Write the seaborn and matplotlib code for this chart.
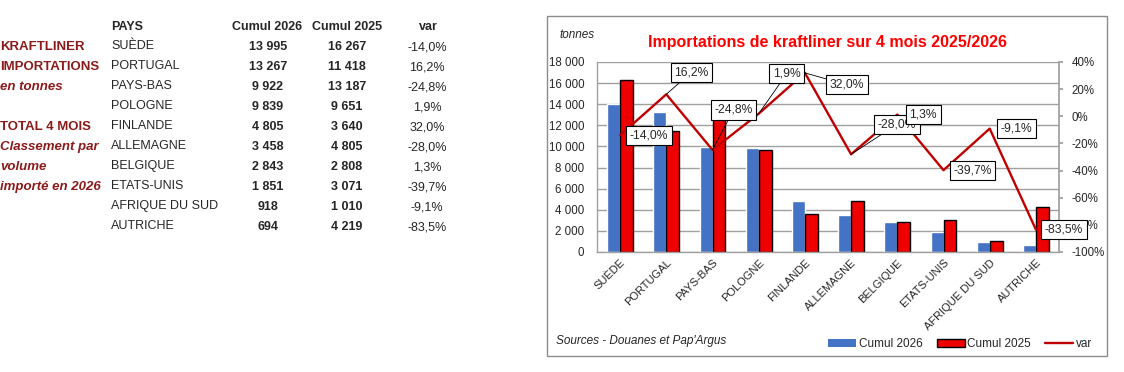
import numpy as np
import pandas as pd
import matplotlib
matplotlib.use("Agg")
import matplotlib.pyplot as plt
import seaborn as sns
from matplotlib.patches import Patch, Rectangle
from matplotlib.lines import Line2D
from matplotlib.ticker import FuncFormatter, MultipleLocator

# ---- data ----
pays = ["SUÈDE", "PORTUGAL", "PAYS-BAS", "POLOGNE", "FINLANDE", "ALLEMAGNE",
        "BELGIQUE", "ETATS-UNIS", "AFRIQUE DU SUD", "AUTRICHE"]
cumul_2026 = [13995, 13267, 9922, 9839, 4805, 3458, 2843, 1851, 918, 694]
cumul_2025 = [16267, 11418, 13187, 9651, 3640, 4805, 2808, 3071, 1010, 4219]
var_pct = [-14.0, 16.2, -24.8, 1.9, 32.0, -28.0, 1.3, -39.7, -9.1, -83.5]
series = ["Cumul 2026", "Cumul 2025"]

# label box offsets (pixels, x right / y down) relative to each line point
label_offsets = [(29, 0), (25, -22), (21, -40), (28, -40), (42, 12),
                 (46, -30), (26, 0), (29, 0), (27, 0), (28, 0)]

BLUE = "#4472C4"
RED = "#EE0000"
DARKRED = "#C00000"
MAROON = "#8B1A1A"
GRID = "#A0A0A0"

sns.set_theme(style="white")
plt.rcParams["font.family"] = ["Liberation Sans", "DejaVu Sans"]

W, H = 1124, 372
fig = plt.figure(figsize=(W / 100, H / 100), dpi=100)


def fx(px):
    return px / W


def fy(py):
    return 1 - py / H


def fmt_int(v):
    return f"{v:,}".replace(",", " ")


def fmt_pct(v):
    return f"{v:.1f}%".replace(".", ",")


# ---- left table ----
fs = 9
fig.text(fx(111), fy(27), "PAYS", fontsize=fs, fontweight="bold", va="center")
fig.text(fx(267), fy(27), "Cumul 2026", fontsize=fs, fontweight="bold", va="center", ha="center")
fig.text(fx(347), fy(27), "Cumul 2025", fontsize=fs, fontweight="bold", va="center", ha="center")
fig.text(fx(428), fy(27), "var", fontsize=fs, fontweight="bold", va="center", ha="center")
for i, p in enumerate(pays):
    y = 46 + 20 * i
    fig.text(fx(111), fy(y), p, fontsize=fs, va="center")
    fig.text(fx(268), fy(y + 1.5), fmt_int(cumul_2026[i]), fontsize=fs, fontweight="bold",
             va="center", ha="center")
    fig.text(fx(347), fy(y + 1.5), fmt_int(cumul_2025[i]), fontsize=fs, fontweight="bold",
             va="center", ha="center")
    fig.text(fx(427), fy(y + 1.5), fmt_pct(var_pct[i]), fontsize=fs, va="center", ha="center")

side = [("KRAFTLINER", 47, "normal"), ("IMPORTATIONS", 67, "normal"), ("en tonnes", 87, "italic"),
        ("TOTAL 4 MOIS", 127, "normal"), ("Classement par", 147, "italic"),
        ("volume", 167, "italic"), ("importé en 2026", 187, "italic")]
for txt, y, st in side:
    fig.text(fx(0), fy(y), txt, fontsize=9.5, fontweight="bold", fontstyle=st,
             color=MAROON, va="center")

# ---- chart frame ----
fig.add_artist(Rectangle((fx(547), fy(356)), fx(1107) - fx(547), fy(16) - fy(356),
                         transform=fig.transFigure, fill=False, ec="#8C8C8C", lw=1))

ax = fig.add_axes([fx(597), fy(252), fx(1059) - fx(597), fy(62) - fy(252)])

df = pd.DataFrame({
    "pays": pays * 2,
    "serie": [series[0]] * len(pays) + [series[1]] * len(pays),
    "valeur": cumul_2026 + cumul_2025,
})
sns.barplot(data=df, x="pays", y="valeur", hue="serie", palette=[BLUE, RED],
            width=0.56, gap=0, saturation=1, legend=False, ax=ax)
for bar in ax.containers[1]:
    bar.set_edgecolor("black")
    bar.set_linewidth(1)

ax.set_ylim(0, 18000)
ax.set_xlim(-0.5, len(pays) - 0.5)
ax.yaxis.set_major_locator(MultipleLocator(2000))
ax.yaxis.set_major_formatter(FuncFormatter(lambda v, _: fmt_int(int(v))))
ax.grid(axis="y", color=GRID, lw=1)
ax.set_axisbelow(True)
ax.set_xlabel("")
ax.set_ylabel("")
ax.tick_params(axis="y", labelsize=8.3, length=0, pad=9)
ax.tick_params(axis="x", labelsize=8, length=0, pad=4)
ax.set_xticks(range(len(pays)))
ax.set_xticklabels(pays, rotation=45, ha="right", rotation_mode="anchor")
for s in ["top", "right"]:
    ax.spines[s].set_visible(False)
for s in ["left", "bottom"]:
    ax.spines[s].set_color(GRID)
    ax.spines[s].set_linewidth(1)

# ---- var line on secondary axis ----
ax2 = ax.twinx()
sns.lineplot(x=np.arange(len(pays)), y=var_pct, color=DARKRED, lw=1.7, ax=ax2)
ax2.set_ylim(-100, 40)
ax2.yaxis.set_major_locator(MultipleLocator(20))
ax2.yaxis.set_major_formatter(FuncFormatter(lambda v, _: f"{int(round(v))}%"))
ax2.tick_params(axis="y", labelsize=8.3, length=3, color=GRID, pad=6, right=True)
for s in ["top", "left", "bottom"]:
    ax2.spines[s].set_visible(False)
ax2.spines["right"].set_color(GRID)
ax2.set_ylabel("")

for i, v in enumerate(var_pct):
    dx, dy = label_offsets[i]
    leader = abs(dy) > 5 or dx > 35
    ax2.annotate(fmt_pct(v), xy=(i, v), xytext=(dx, -dy), textcoords="offset pixels",
                 ha="center", va="center", fontsize=8.7, zorder=5,
                 bbox=dict(boxstyle="square,pad=0.3", fc="white", ec="black", lw=0.8),
                 arrowprops=dict(arrowstyle="-", color="black", lw=0.6, shrinkA=0, shrinkB=0)
                 if leader else None)

# ---- titles / notes ----
fig.text(fx(828), fy(43), "Importations de kraftliner sur 4 mois 2025/2026", color="#FF0000",
         fontsize=11.5, fontweight="bold", ha="center", va="center")
fig.text(fx(577), fy(35), "tonnes", fontsize=8.5, fontstyle="italic", ha="center", va="center")
fig.text(fx(556), fy(341), "Sources - Douanes et Pap'Argus", fontsize=8.5, fontstyle="italic",
         va="center")

handles = [Patch(fc=BLUE, ec="none"), Patch(fc=RED, ec="black", lw=1),
           Line2D([], [], color=DARKRED, lw=1.7)]
fig.legend(handles, ["Cumul 2026", "Cumul 2025", "var"], loc="center",
           bbox_to_anchor=(fx(960), fy(344)), ncol=3, frameon=False, fontsize=8.5,
           handlelength=2.4, handleheight=0.7, handletextpad=0.2, columnspacing=1.2)

fig.savefig("out.png", dpi=100)
